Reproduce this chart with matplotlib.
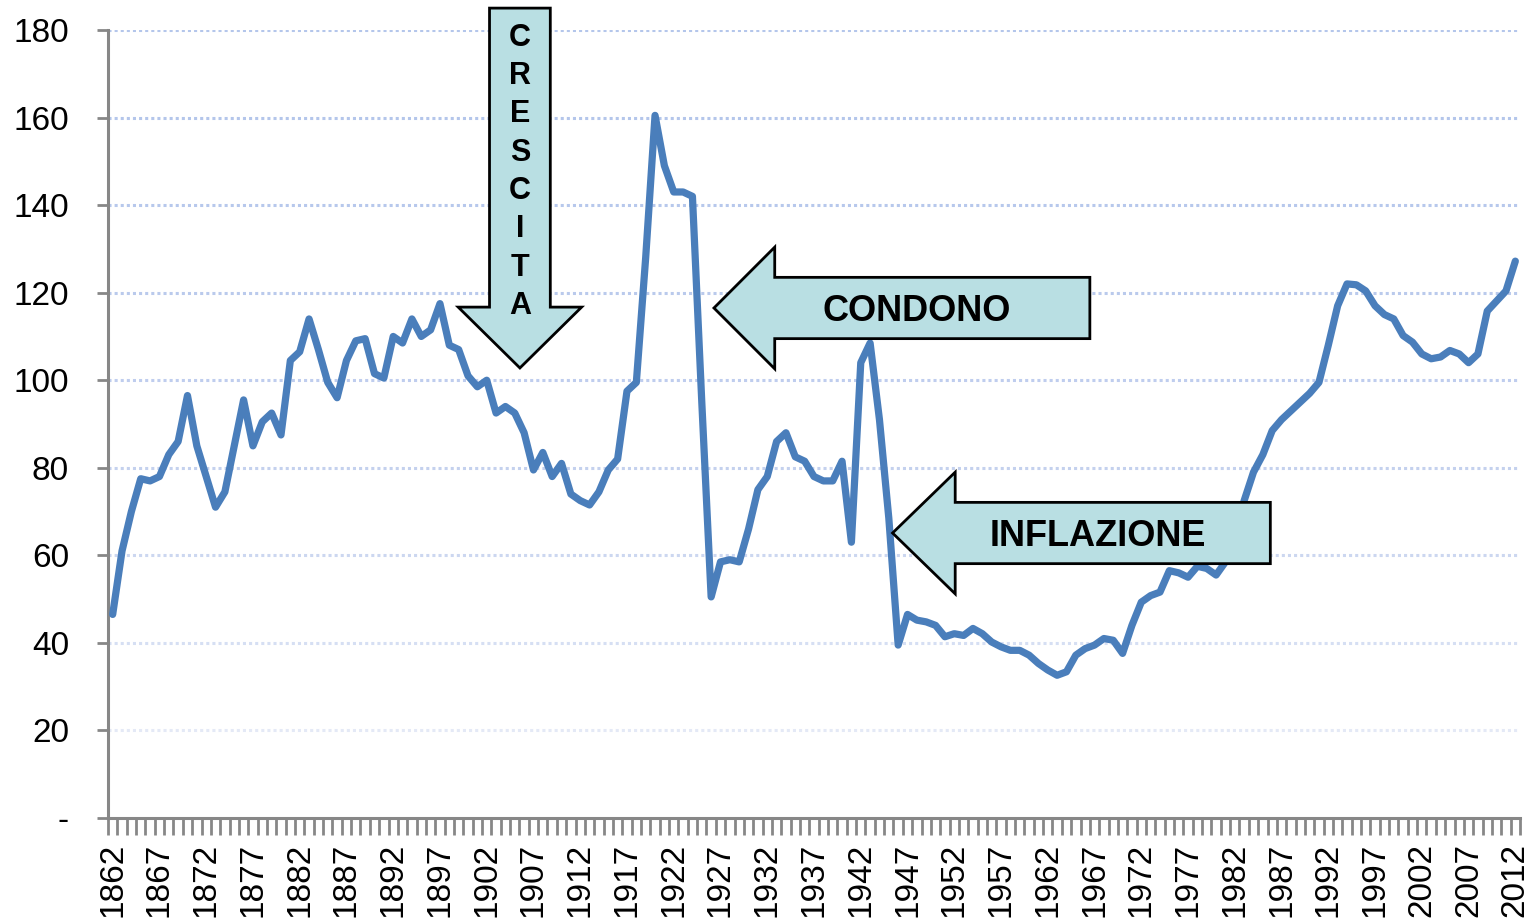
import numpy as np
import matplotlib
matplotlib.use("Agg")
import matplotlib.pyplot as plt
from matplotlib.patches import Polygon

plt.rcParams['font.family'] = ['Liberation Sans', 'DejaVu Sans']

# debito pubblico / PIL, 1862-2012
years = list(range(1862, 2013))
debt = [
    46.5, 61, 70, 77.5, 77, 78, 83, 86,                      # 1862-1869
    96.5, 85, 78, 71, 74.5, 85, 95.5, 85, 90.5, 92.5,        # 1870-1879
    87.5, 104.5, 106.5, 114, 107, 99.5, 96, 104.5, 109, 109.5,   # 1880-1889
    101.5, 100.5, 110, 108.5, 114, 110, 111.5, 117.5, 108, 107,  # 1890-1899
    101, 98.5, 100, 92.5, 94, 92.5, 88, 79.5, 83.5, 78,      # 1900-1909
    81, 74, 72.5, 71.5, 74.5, 79.5, 82, 97.5, 99.5, 128,     # 1910-1919
    160.5, 149, 143, 143, 142, 95, 50.5, 58.5, 59, 58.5,     # 1920-1929
    66, 75, 78, 86, 88, 82.5, 81.5, 78, 77, 77,              # 1930-1939
    81.5, 63, 104, 108.5, 91, 68.5, 39.5, 46.5, 45.2, 44.8,  # 1940-1949
    44, 41.4, 42.1, 41.7, 43.3, 42.1, 40.2, 39.1, 38.3, 38.3,    # 1950-1959
    37.2, 35.3, 33.8, 32.6, 33.4, 37.2, 38.7, 39.5, 41, 40.6,    # 1960-1969
    37.6, 44, 49.3, 50.8, 51.6, 56.5, 56, 55, 57.5, 57,      # 1970-1979
    55.5, 58.5, 64, 72.5, 79, 83, 88.5, 91, 93, 95,          # 1980-1989
    97, 99.5, 108, 117, 122, 121.8, 120.4, 117, 115, 114,    # 1990-1999
    110.2, 108.7, 106, 104.9, 105.3, 106.8, 106, 104, 106, 115.8,  # 2000-2009
    118.1, 120.4, 127.2,                                     # 2010-2012
]
yticks = [0, 20, 40, 60, 80, 100, 120, 140, 160, 180]
ytick_labels = ['-'] + [str(v) for v in yticks[1:]]
label_step = 5

fill = '#b9dfe3'
gray = '#878787'

fig = plt.figure(figsize=(15.33, 9.19), dpi=100)
ax = fig.add_axes([108 / 1533, 1 - 818 / 919, 1412 / 1533, 788 / 919])

x = np.arange(len(years))
ax.plot(x, debt, color='#4a7ebb', lw=5.2, solid_joinstyle='round',
        solid_capstyle='round', zorder=3)

ax.set_xlim(-0.5, len(years) - 0.5)
ax.set_ylim(0, 180)

# y axis
ax.set_yticks(yticks)
ax.set_yticklabels(ytick_labels, fontsize=24)
ax.tick_params(axis='y', length=8, width=2, color=gray, pad=20)
ax.yaxis.grid(True, linestyle=(0, (1.0, 1.0)), lw=2.2)
ax.set_axisbelow(True)
grid_cols = ['#ffffff', '#e4e9f6', '#d6dff3', '#ccd7f0', '#c4d1ee',
             '#bfcdee', '#bacaec', '#b7c8ec', '#b4c6eb', '#b4c6eb']
for gl, c in zip(ax.get_ygridlines(), grid_cols):
    gl.set_color(c)

# x axis: ticks between categories, labels every 5 years
ax.set_xticks(np.arange(-0.5, len(years)), minor=True)
ax.set_xticks(x[::label_step])
ax.set_xticklabels([str(y) for y in years[::label_step]], rotation=90,
                   fontsize=24, va='top', ha='center')
ax.tick_params(axis='x', which='minor', length=12, width=2, color=gray)
ax.tick_params(axis='x', which='major', length=0, pad=18)

for s in ['top', 'right']:
    ax.spines[s].set_visible(False)
for s in ['left', 'bottom']:
    ax.spines[s].set_color(gray)
    ax.spines[s].set_linewidth(2.2)


def down_arrow(cx, hs, hh, top, neck, tip):
    pts = [(cx - hs, top), (cx + hs, top), (cx + hs, neck), (cx + hh, neck),
           (cx, tip), (cx - hh, neck), (cx - hs, neck)]
    ax.add_patch(Polygon(pts, closed=True, fc=fill, ec='black', lw=2,
                         clip_on=False, zorder=5))


def left_arrow(tx, cy, hx, hh, hs, rx):
    pts = [(tx, cy), (hx, cy + hh), (hx, cy + hs), (rx, cy + hs),
           (rx, cy - hs), (hx, cy - hs), (hx, cy - hh)]
    ax.add_patch(Polygon(pts, closed=True, fc=fill, ec='black', lw=2,
                         clip_on=False, zorder=5))


# CRESCITA
down_arrow(43.55, 3.25, 6.6, 185, 116.7, 102.8)
for k, ch in enumerate('CRESCITA'):
    ax.text(43.55, 178.2 - 8.75 * k, ch, fontsize=22, fontweight='bold',
            ha='center', va='center', zorder=6)

# CONDONO
left_arrow(64.3, 116.5, 70.8, 13.9, 7.0, 104.5)
ax.text(86.0, 115.8, 'CONDONO', fontsize=26, fontweight='bold',
        ha='center', va='center', zorder=6)

# INFLAZIONE
left_arrow(83.4, 65.1, 90.1, 13.9, 7.0, 123.8)
ax.text(105.3, 64.4, 'INFLAZIONE', fontsize=26, fontweight='bold',
        ha='center', va='center', zorder=6)

fig.savefig('out.png', dpi=100)
